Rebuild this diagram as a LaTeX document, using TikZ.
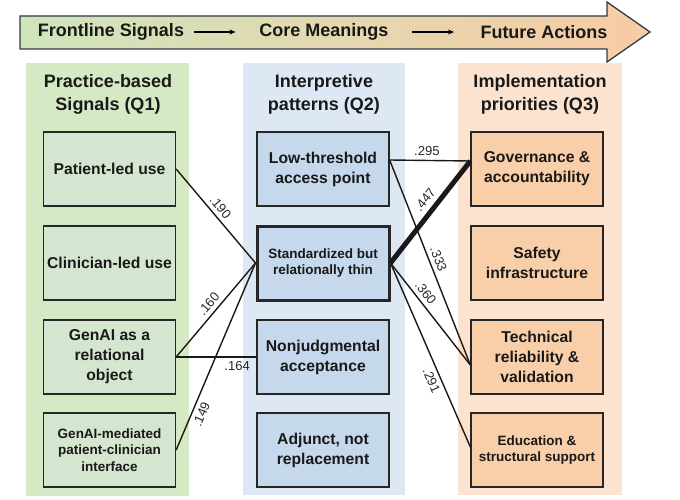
\documentclass[tikz,border=0pt]{standalone}
\usepackage{fontspec}
\setmainfont{Liberation Sans}
\usetikzlibrary{arrows.meta}

\definecolor{sigpanel}{HTML}{D5E9C4}
\definecolor{sigfill}{HTML}{D5E6D0}
\definecolor{patpanel}{HTML}{DDE8F4}
\definecolor{patfill}{HTML}{C5D8EC}
\definecolor{pripanel}{HTML}{FCE3CF}
\definecolor{prifill}{HTML}{F9CFAA}
\definecolor{arrowgreen}{HTML}{CFE5BC}
\definecolor{arrowblue}{HTML}{D6E3F0}
\definecolor{arrowpeach}{HTML}{F8CBA4}
\definecolor{edgegrey}{HTML}{2E3B47}

\tikzset{
    basebox/.style={draw=black!85, line width=1.3pt, minimum width=132pt, minimum height=74pt,
        align=center, inner sep=2pt, text=black!90, font=\fontsize{15.7}{20}\selectfont\bfseries},
    sigbox/.style={basebox, fill=sigfill},
    patbox/.style={basebox, fill=patfill},
    pribox/.style={basebox, fill=prifill},
    smalltext/.style={font=\fontsize{13.5}{16.5}\selectfont\bfseries},
    coltitle/.style={align=center, text=black!90, font=\fontsize{18}{23}\selectfont\bfseries},
    headtext/.style={text=black!90, font=\fontsize{18}{20}\selectfont\bfseries},
    link/.style={line width=1.4pt, black!90},
    wlabel/.style={sloped, inner sep=4pt, text=black!85, font=\fontsize{13}{14}\selectfont},
}

\begin{document}
\begin{tikzpicture}[x=1pt, y=-1pt]
    \useasboundingbox (0,0) rectangle (680,500);

    % Header arrow
    \draw[edgegrey, line width=1.3pt, left color=arrowgreen, middle color=arrowblue, right color=arrowpeach]
        (20,16) -- (607,16) -- (607,2) -- (650,32) -- (607,62) -- (607,49) -- (20,49) -- cycle;
    \node[headtext] (front) at (111,32) {Frontline Signals};
    \node[headtext] (core) at (324,32) {Core Meanings};
    \node[headtext] (future) at (544,32) {Future Actions};
    \draw[-{Stealth[length=6pt,width=5pt]}, line width=1.3pt] ([xshift=6]front.east) -- +(42,0);
    \draw[-{Stealth[length=6pt,width=5pt]}, line width=1.3pt] ([xshift=20]core.east) -- +(42,0);

    % Column panels
    \fill[sigpanel] (26,63) rectangle (189,496);
    \fill[patpanel] (243,63) rectangle (405,495);
    \fill[pripanel] (458,63) rectangle (622,495);
    \node[coltitle] (sigtitle) at (108,94) {Practice-based\\Signals (Q1)};
    \node[coltitle] (pattitle) at (324,94) {Interpretive\\patterns (Q2)};
    \node[coltitle] (prititle) at (540,94) {Implementation\\priorities (Q3)};

    % Practice-based signals
    \node[sigbox] (patient) at (109.5,169) {Patient-led use};
    \node[sigbox] (clinician) at (109.5,263) {Clinician-led use};
    \node[sigbox] (relobj) at (109.5,357) {GenAI as a\\relational\\object};
    \node[sigbox, smalltext] (mediated) at (109.5,450) {GenAI-mediated\\patient-clinician\\interface};

    % Interpretive patterns
    \node[patbox] (lowthr) at (323,169) {Low-threshold\\access point};
    \node[patbox, smalltext, line width=3pt] (standard) at (323,263) {Standardized but\\relationally thin};
    \node[patbox] (nonjudg) at (323,357) {Nonjudgmental\\acceptance};
    \node[patbox] (adjunct) at (323,450) {Adjunct, not\\replacement};

    % Implementation priorities
    \node[pribox] (govern) at (537,169) {Governance \&\\accountability};
    \node[pribox] (safety) at (537,263) {Safety\\infrastructure};
    \node[pribox] (technical) at (537,357) {Technical\\reliability \&\\validation};
    \node[pribox, smalltext] (education) at (537,450) {Education \&\\structural support};

    % Signals to patterns
    \draw[link] (patient.east) -- node[wlabel, above, pos=0.47] {.190} (standard.west);
    \draw[link] (relobj.east) -- node[wlabel, above, pos=0.5] {.160} (standard.west);
    \draw[link] (relobj.east) -- node[wlabel, below, pos=0.76] {.164} (nonjudg.west);
    \draw[link] (mediated.east) -- node[wlabel, below, pos=0.21] {.149} (standard.west);

    % Patterns to priorities
    \draw[link] ([yshift=9]lowthr.east) -- node[wlabel, above, pos=0.46] {.295} ([yshift=8]govern.west);
    \draw[line width=5pt, black!90] (standard.east) -- node[wlabel, above, pos=0.55, inner sep=5pt] {.447} ([yshift=8]govern.west);
    \draw[link] ([yshift=9]lowthr.east) -- node[wlabel, above, pos=0.5] {.333} ([yshift=-8]technical.west);
    \draw[link] (standard.east) -- node[wlabel, above, pos=0.35] {.360} ([yshift=-8]technical.west);
    \draw[link] (standard.east) -- node[wlabel, below, pos=0.62] {.291} ([yshift=3]education.west);
\end{tikzpicture}
\end{document}
